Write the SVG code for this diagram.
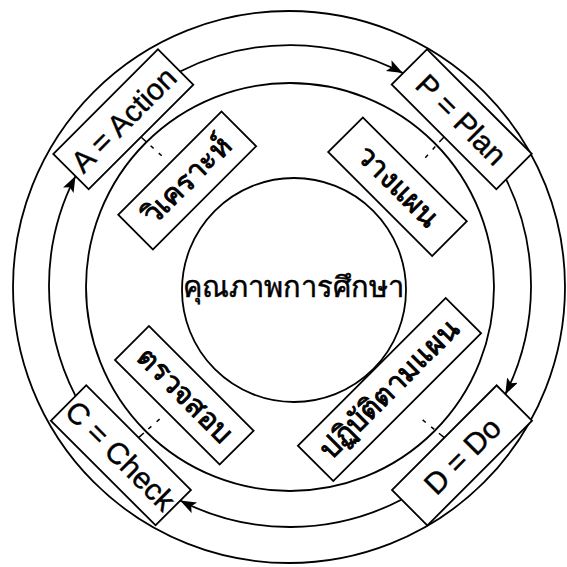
<svg xmlns="http://www.w3.org/2000/svg" width="567" height="567" viewBox="0 0 567 567">
<defs>
<style>
.ring{fill:none;stroke:#000;stroke-width:1.8}
.box{fill:#fff;stroke:#000;stroke-width:1.8}
.arc{fill:none;stroke:#000;stroke-width:1.8;marker-end:url(#ah)}
.dash{fill:none;stroke:#000;stroke-width:1.5;stroke-dasharray:7 6 4 7 4 40}
.lbl{font-family:"Liberation Sans",Arial,sans-serif;font-size:30px;fill:#000;stroke:#000;stroke-width:0.4;text-anchor:middle}
.th{font-family:"Liberation Sans","Noto Sans","DejaVu Sans",sans-serif;font-size:29px;fill:#000;stroke:#000;stroke-width:0.5;text-anchor:middle}
.thb{stroke-width:0.9}
</style>
<marker id="ah" markerUnits="userSpaceOnUse" markerWidth="18" markerHeight="14" refX="16" refY="6" orient="auto">
<path d="M0,0 L16,6 L0,12 L3.5,6 Z" fill="#000"/>
</marker>
</defs>
<g id="rings">
<circle class="ring" cx="289" cy="287" r="276"/>
<circle class="ring" cx="290" cy="287" r="204"/>
</g>
<g id="connectors">
<path class="arc" d="M180.1,71.5 A241,241 0 0,1 402.8,73.1"/>
<path class="arc" d="M506,179.1 A241,241 0 0,1 505.3,394.4"/>
<path class="arc" d="M401.3,499.7 A241,241 0 0,1 180.1,500.5"/>
<path class="arc" d="M75.5,395.9 A241,241 0 0,1 75.5,176.1"/>
<line class="dash" x1="141" y1="137" x2="169.9" y2="163.2"/>
<line class="dash" x1="444" y1="136.9" x2="414.8" y2="169.4"/>
<line class="dash" x1="444.3" y1="437.7" x2="407.2" y2="407.2"/>
<line class="dash" x1="138.6" y1="437.6" x2="167.3" y2="412.3"/>
</g>
<g id="center">
<circle class="ring" cx="294" cy="290" r="112"/>
<text class="th" x="293" y="297" font-size="30">คุณภาพการศึกษา</text>
</g>
<g id="action" transform="translate(123.3,119.3) rotate(-45)">
<rect class="box" x="-74" y="-25" width="148" height="50"/>
<text class="lbl" x="0" y="11">A = Action</text>
</g>
<g id="plan" transform="translate(461.7,119.2) rotate(45)">
<rect class="box" x="-74" y="-25" width="148" height="50"/>
<text class="lbl" x="0" y="11">P = Plan</text>
</g>
<g id="do" transform="translate(462,455.4) rotate(-45)">
<rect class="box" x="-74" y="-25" width="148" height="50"/>
<text class="lbl" x="0" y="11">D = Do</text>
</g>
<g id="check" transform="translate(120.9,455.3) rotate(45)">
<rect class="box" x="-74" y="-25" width="148" height="50"/>
<text class="lbl" x="0" y="11">C = Check</text>
</g>
<g id="analyze" transform="translate(187.2,180.5) rotate(-45)">
<rect class="box" x="-73" y="-24.5" width="146" height="49"/>
<text class="th thb" x="0" y="9">วิเคราะห์</text>
</g>
<g id="planning" transform="translate(397.5,186.7) rotate(45)">
<rect class="box" x="-73.5" y="-24.5" width="147" height="49"/>
<text class="th thb" x="0" y="9">วางแผน</text>
</g>
<g id="implement" transform="translate(389.5,389.5) rotate(-45)">
<rect class="box" x="-104.5" y="-25" width="209" height="50"/>
<text class="th thb" x="0" y="9">ปฏิบัติตามแผน</text>
</g>
<g id="inspect" transform="translate(184.3,395.3) rotate(45)">
<rect class="box" x="-74" y="-24" width="148" height="48"/>
<text class="th thb" x="0" y="9">ตรวจสอบ</text>
</g>
</svg>
